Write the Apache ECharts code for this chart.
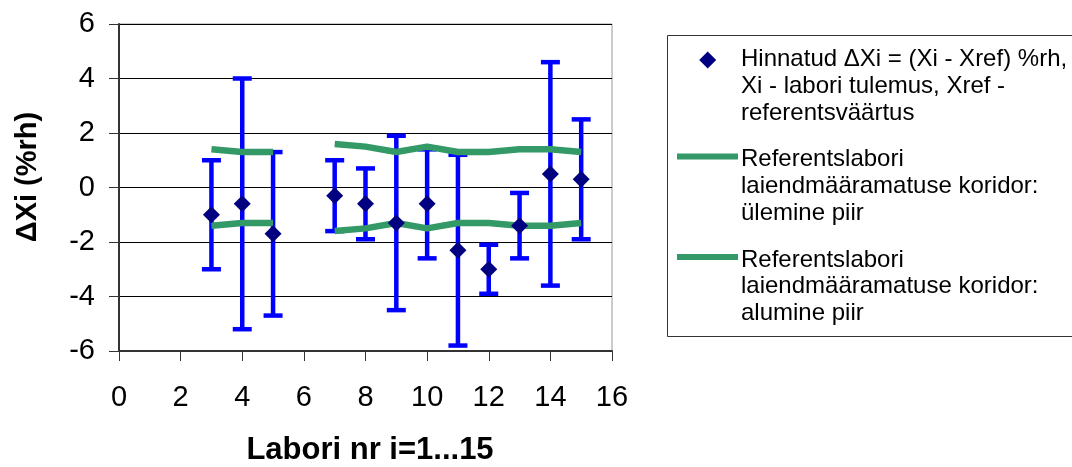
<!DOCTYPE html>
<html>
<head>
<meta charset="utf-8">
<script src="https://cdn.jsdelivr.net/npm/echarts@6/dist/echarts.min.js"></script>
<style>html,body{margin:0;padding:0;background:#fff}#c{width:1072px;height:467px}</style>
</head>
<body>
<div id="c"></div>
<script>
// Lab numbers
var labs = [3, 4, 5, 7, 8, 9, 10, 11, 12, 13, 14, 15];
// Estimated ΔXi values
var deltaX = [-1.0, -0.6, -1.7, -0.3, -0.6, -1.3, -0.6, -2.3, -3.0, -1.4, 0.5, 0.3];
// Error bar ends
var errHigh = [1.0, 4.0, 1.3, 1.0, 0.7, 1.9, 1.4, 1.2, -2.1, -0.2, 4.6, 2.5];
var errLow = [-3.0, -5.2, -4.7, -1.6, -1.9, -4.5, -2.6, -5.8, -3.9, -2.6, -3.6, -1.9];
// Reference lab corridor (x positions, null = gap)
var corridorX = [3, 4, 5, 6, 7, 8, 9, 10, 11, 12, 13, 14, 15];
var corridorUpper = [1.4, 1.3, 1.3, null, 1.6, 1.5, 1.3, 1.5, 1.3, 1.3, 1.4, 1.4, 1.3];
var corridorLower = [-1.4, -1.3, -1.3, null, -1.6, -1.5, -1.3, -1.5, -1.3, -1.3, -1.4, -1.4, -1.3];
// Axis ticks
var xTicks = [0, 2, 4, 6, 8, 10, 12, 14, 16];
var yTicks = [-6, -4, -2, 0, 2, 4, 6];

var legendTexts = [
  'Hinnatud ΔXi = (Xi - Xref) %rh,\nXi - labori tulemus, Xref -\nreferentsväärtus',
  'Referentslabori\nlaiendmääramatuse koridor:\nülemine piir',
  'Referentslabori\nlaiendmääramatuse koridor:\nalumine piir'
];
var xTitle = 'Labori nr i=1...15';
var yTitle = 'ΔXi (%rh)';

var FONT = 'Arial, "Liberation Sans", sans-serif';
var GREEN = '#339966', BLUE = '#0000FF', NAVY = '#000080';

var chart = echarts.init(document.getElementById('c'));

function pairs(xs, ys) { return xs.map(function (x, i) { return [x, ys[i]]; }); }

var LH = 26.7;
var option = {
  animation: false,
  backgroundColor: '#fff',
  grid: { left: 119, right: 460, top: 24, bottom: 116, show: true, borderColor: '#999', borderWidth: 1, backgroundColor: 'transparent' },
  xAxis: {
    type: 'value', min: xTicks[0], max: xTicks[xTicks.length - 1], interval: 2,
    axisLine: { show: true, onZero: false, lineStyle: { color: '#333', width: 2 } },
    axisTick: { show: true, inside: false, length: 10, lineStyle: { color: '#333', width: 1 } },
    axisLabel: { color: '#000', fontSize: 29, fontFamily: FONT, margin: 32 },
    splitLine: { show: false }
  },
  yAxis: {
    type: 'value', min: yTicks[0], max: yTicks[yTicks.length - 1], interval: 2,
    axisLine: { show: true, onZero: false, lineStyle: { color: '#333', width: 2 } },
    axisTick: { show: true, inside: false, length: 10, lineStyle: { color: '#333', width: 1 } },
    axisLabel: { color: '#000', fontSize: 29, fontFamily: FONT, margin: 24 },
    splitLine: { show: true, lineStyle: { color: '#000', width: 1 } }
  },
  series: [
    {
      type: 'custom',
      z: 2,
      data: labs.map(function (x, i) { return [x, errLow[i], errHigh[i]]; }),
      renderItem: function (params, api) {
        var x = api.value(0);
        var lo = api.coord([x, api.value(1)]);
        var hi = api.coord([x, api.value(2)]);
        var cap = 9.5;
        var st = { stroke: BLUE, lineWidth: 4.5 };
        return {
          type: 'group',
          children: [
            { type: 'line', shape: { x1: hi[0], y1: hi[1], x2: lo[0], y2: lo[1] }, style: st },
            { type: 'line', shape: { x1: hi[0] - cap, y1: hi[1], x2: hi[0] + cap, y2: hi[1] }, style: st },
            { type: 'line', shape: { x1: lo[0] - cap, y1: lo[1], x2: lo[0] + cap, y2: lo[1] }, style: st }
          ]
        };
      }
    },
    {
      type: 'line', z: 3, data: pairs(corridorX, corridorUpper), showSymbol: false, symbol: 'none',
      connectNulls: false, lineStyle: { color: GREEN, width: 6.5 }
    },
    {
      type: 'line', z: 3, data: pairs(corridorX, corridorLower), showSymbol: false, symbol: 'none',
      connectNulls: false, lineStyle: { color: GREEN, width: 6.5 }
    },
    {
      type: 'scatter', z: 4, data: pairs(labs, deltaX), symbol: 'diamond', symbolSize: 17,
      itemStyle: { color: NAVY, opacity: 1 }
    }
  ],
  graphic: [
    {
      type: 'text', x: 370, y: 450,
      style: { text: xTitle, font: 'bold 31px ' + FONT, fill: '#000', align: 'center', verticalAlign: 'middle' }
    },
    {
      type: 'text', x: 28, y: 177, rotation: Math.PI / 2,
      style: { text: yTitle, font: 'bold 29px ' + FONT, fill: '#000', align: 'center', verticalAlign: 'middle' }
    },
    {
      type: 'rect', shape: { x: 667.5, y: 35.5, width: 420, height: 301 },
      style: { fill: '#fff', stroke: '#333', lineWidth: 1 }, z: 10
    },
    {
      type: 'polygon', z: 11,
      shape: { points: [[707.7, 51.5], [716.2, 60], [707.7, 68.5], [699.2, 60]] },
      style: { fill: NAVY }
    },
    { type: 'line', z: 11, shape: { x1: 677, y1: 156.5, x2: 738, y2: 156.5 }, style: { stroke: GREEN, lineWidth: 6 } },
    { type: 'line', z: 11, shape: { x1: 677, y1: 257, x2: 738, y2: 257 }, style: { stroke: GREEN, lineWidth: 6 } },
    {
      type: 'text', z: 11, x: 741, y: 59.5 - LH / 2,
      style: { text: legendTexts[0], font: '24px ' + FONT, fill: '#000', lineHeight: LH, verticalAlign: 'top' }
    },
    {
      type: 'text', z: 11, x: 741, y: 159.5 - LH / 2,
      style: { text: legendTexts[1], font: '24px ' + FONT, fill: '#000', lineHeight: LH, verticalAlign: 'top' }
    },
    {
      type: 'text', z: 11, x: 741, y: 260 - LH / 2,
      style: { text: legendTexts[2], font: '24px ' + FONT, fill: '#000', lineHeight: LH, verticalAlign: 'top' }
    }
  ]
};
chart.setOption(option);
</script>
</body>
</html>
